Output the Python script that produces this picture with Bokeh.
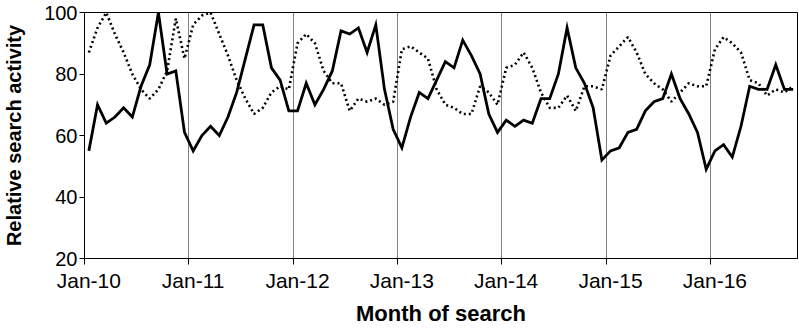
from bokeh.plotting import figure
from bokeh.models import FixedTicker, Range1d
from bokeh.embed import file_html
from bokeh.resources import INLINE

year_labels = ["Jan-10", "Jan-11", "Jan-12", "Jan-13", "Jan-14", "Jan-15", "Jan-16"]

solid_values = [
    55, 70, 64, 66, 69, 66, 76, 83, 100, 80, 81, 61,
    55, 60, 63, 60, 66, 74, 85, 96, 96, 82, 78, 68,
    68, 77, 70, 75, 81, 94, 93, 95, 87, 96, 75, 62,
    56, 66, 74, 72, 78, 84, 82, 91, 86, 80, 67, 61,
    65, 63, 65, 64, 72, 72, 80, 95, 82, 77, 69, 52,
    55, 56, 61, 62, 68, 71, 72, 80, 72, 67, 61, 49,
    55, 57, 53, 63, 76, 75, 75, 83, 75, 75,
]

dotted_values = [
    87, 95, 100, 93, 87, 80, 75, 72, 75, 81, 98, 85,
    96, 99, 100, 93, 86, 78, 72, 67, 69, 74, 76, 75,
    90, 93, 90, 81, 77, 77, 68, 72, 71, 72, 70, 71,
    88, 89, 87, 85, 75, 70, 69, 67, 67, 76, 74, 70,
    82, 83, 87, 82, 74, 69, 69, 73, 68, 76, 76, 75,
    86, 89, 92, 87, 80, 77, 75, 71, 74, 77, 76, 76,
    88, 92, 90, 87, 78, 77, 73, 75, 74, 76,
]

y_ticks = [20, 40, 60, 80, 100]

n = len(solid_values)
months = [i + 0.5 for i in range(n)]
year_starts = [12 * k for k in range(len(year_labels))]
label_pos = [s + 0.5 for s in year_starts]

p = figure(width=799, height=328, x_range=Range1d(0, n), y_range=Range1d(20, 100),
           output_backend="svg", toolbar_location=None,
           min_border_left=0, min_border_right=2, min_border_top=12, min_border_bottom=0)
p.background_fill_color = "white"
p.border_fill_color = "white"
p.outline_line_color = "black"
p.outline_line_width = 1
p.outline_line_alpha = 1

FONT = "Liberation Sans"

xa = p.xaxis[0]
xa.ticker = FixedTicker(ticks=label_pos, minor_ticks=year_starts)
xa.major_label_overrides = {pos: lab for pos, lab in zip(label_pos, year_labels)}
xa.major_tick_line_color = None
xa.major_tick_out = 6
xa.major_tick_in = 0
xa.minor_tick_line_color = "black"
xa.minor_tick_out = 6
xa.minor_tick_in = 0
xa.axis_line_color = "black"
xa.major_label_text_font = FONT
xa.major_label_text_font_size = "21px"
xa.major_label_text_color = "black"
xa.major_label_standoff = 4
xa.axis_label = "Month of search"
xa.axis_label_text_font = FONT
xa.axis_label_text_font_style = "bold"
xa.axis_label_text_font_size = "22px"
xa.axis_label_text_color = "black"
xa.axis_label_standoff = 6

ya = p.yaxis[0]
ya.ticker = FixedTicker(ticks=y_ticks)
ya.major_tick_out = 5
ya.major_tick_in = 0
ya.minor_tick_line_color = None
ya.major_tick_line_color = "black"
ya.axis_line_color = "black"
ya.major_label_text_font = FONT
ya.major_label_text_font_size = "20px"
ya.major_label_text_color = "black"
ya.major_label_standoff = 2
ya.axis_label = "Relative search activity"
ya.axis_label_text_font = FONT
ya.axis_label_text_font_style = "bold"
ya.axis_label_text_font_size = "20px"
ya.axis_label_text_color = "black"
ya.axis_label_standoff = 16

p.xgrid.ticker = FixedTicker(ticks=year_starts[1:])
p.xgrid.grid_line_color = "#808080"
p.xgrid.grid_line_width = 1
p.ygrid.grid_line_color = None

p.line(months, dotted_values, line_color="black", line_width=2.6, line_dash="2 3")
p.line(months, solid_values, line_color="black", line_width=2.8, line_join="miter")

open("out.html", "w").write(file_html(p, INLINE))
